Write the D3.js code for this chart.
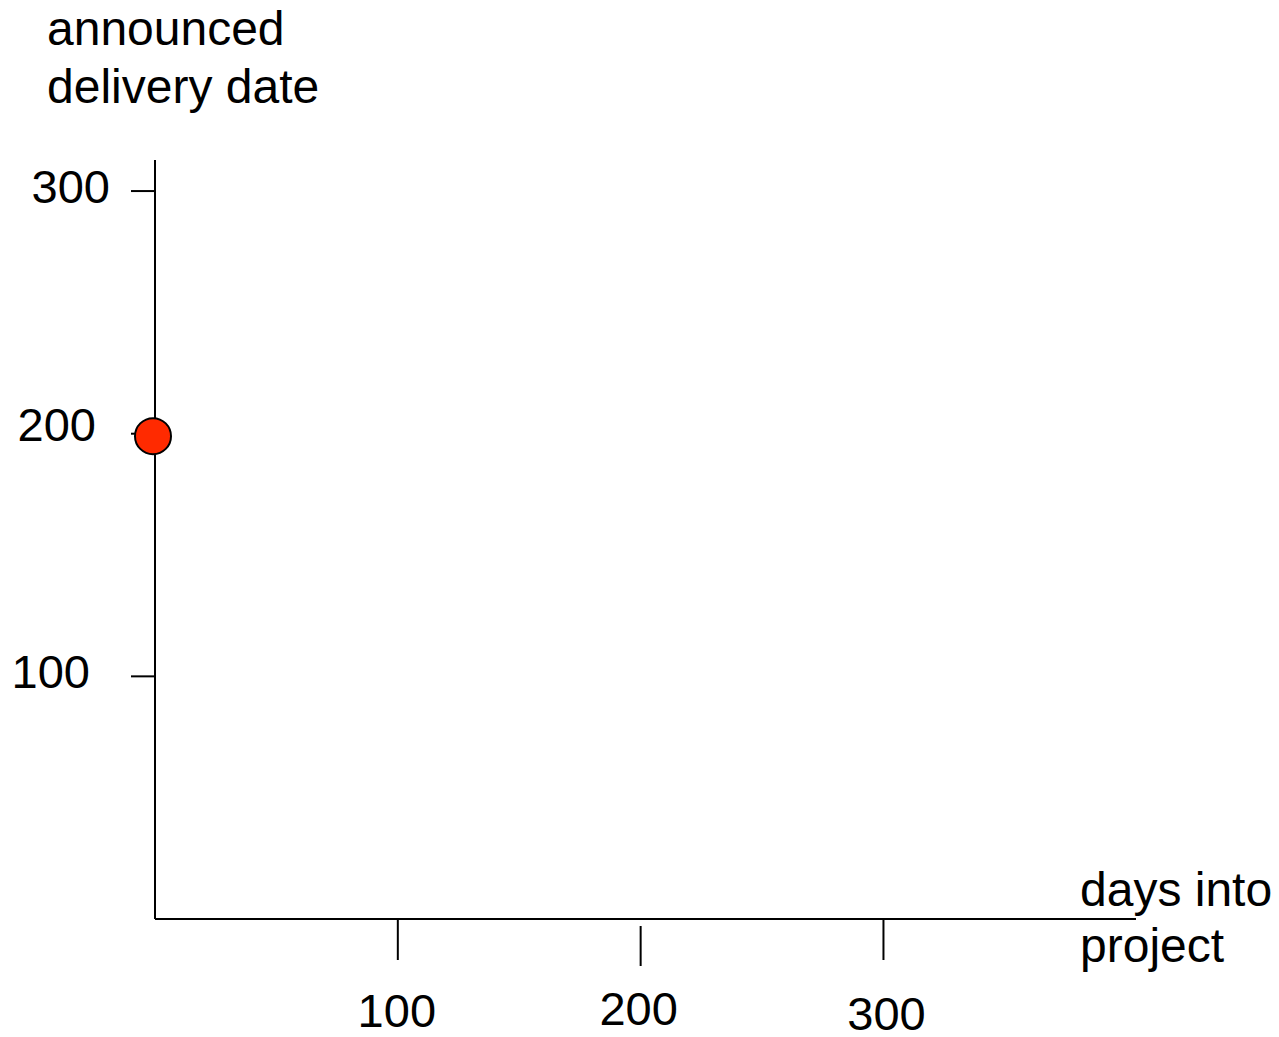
<!DOCTYPE html>
<html>
<head>
<meta charset="utf-8">
<script src="https://cdn.jsdelivr.net/npm/d3@7"></script>
<style>
  html, body { margin: 0; padding: 0; background: #fff; }
  svg { display: block; }
  text { font-family: "Liberation Sans", Arial, Helvetica, sans-serif; fill: #000; }
</style>
</head>
<body>
<svg id="chart" width="1279" height="1037"></svg>
<script>
// ---- data ----
const days = [0];
const announced = [199];
const xTicks = [100, 200, 300];
const yTicks = [100, 200, 300];
const xTitle = ["days into", "project"];
const yTitle = ["announced", "delivery date"];

// ---- layout ----
const fontSize = 47;
const titleSize = 48;
const svg = d3.select("#chart");

const x = d3.scaleLinear().domain([0, 404]).range([155, 1136]);
const y = d3.scaleLinear().domain([0, 312.8]).range([919, 160]);

// small hand-drawn label nudges (dx, dy) per tick
const yLabelNudge = {100: [-9, 0], 200: [-3, -5], 300: [11, 0]};
const xLabelNudge = {100: [-1, 0], 200: [-2, -2], 300: [3, 3]};
const xTickNudge = {100: [0, 0], 200: [0, 6], 300: [0, 0]};

const g = svg.append("g");

// axes lines
g.append("line")
  .attr("x1", x(0)).attr("x2", x(0))
  .attr("y1", y(312.8)).attr("y2", y(0))
  .attr("stroke", "#000").attr("stroke-width", 2);
g.append("line")
  .attr("x1", x(0)).attr("x2", x(404))
  .attr("y1", y(0)).attr("y2", y(0))
  .attr("stroke", "#000").attr("stroke-width", 2);

// y ticks
g.selectAll(".ytick").data(yTicks).join("line")
  .attr("class", "ytick")
  .attr("x1", x(0) - 24).attr("x2", x(0))
  .attr("y1", d => y(d)).attr("y2", d => y(d))
  .attr("stroke", "#000").attr("stroke-width", 2);
g.selectAll(".ylab").data(yTicks).join("text")
  .attr("class", "ylab")
  .attr("x", d => 99 + yLabelNudge[d][0])
  .attr("y", d => y(d) + 12 + yLabelNudge[d][1])
  .attr("text-anchor", "end")
  .attr("font-size", fontSize)
  .text(d => d);

// x ticks
g.selectAll(".xtick").data(xTicks).join("line")
  .attr("class", "xtick")
  .attr("x1", d => x(d)).attr("x2", d => x(d))
  .attr("y1", d => y(0) + 1 + xTickNudge[d][1])
  .attr("y2", d => y(0) + 41 + xTickNudge[d][1])
  .attr("stroke", "#000").attr("stroke-width", 2);
g.selectAll(".xlab").data(xTicks).join("text")
  .attr("class", "xlab")
  .attr("x", d => x(d) + xLabelNudge[d][0])
  .attr("y", d => y(0) + 108 + xLabelNudge[d][1])
  .attr("text-anchor", "middle")
  .attr("font-size", fontSize)
  .text(d => d);

// titles
g.append("text").attr("x", 47).attr("y", 45).attr("font-size", titleSize).text(yTitle[0]);
g.append("text").attr("x", 47).attr("y", 103).attr("font-size", titleSize).text(yTitle[1]);
g.append("text").attr("x", 1080).attr("y", 906).attr("font-size", titleSize).text(xTitle[0]);
g.append("text").attr("x", 1080).attr("y", 962).attr("font-size", titleSize).text(xTitle[1]);

// points
g.selectAll(".pt").data(days.map((d, i) => [d, announced[i]])).join("circle")
  .attr("class", "pt")
  .attr("cx", d => x(d[0]) - 2)
  .attr("cy", d => y(d[1]))
  .attr("r", 18)
  .attr("fill", "#ff2a00")
  .attr("stroke", "#000").attr("stroke-width", 2);
</script>
</body>
</html>
